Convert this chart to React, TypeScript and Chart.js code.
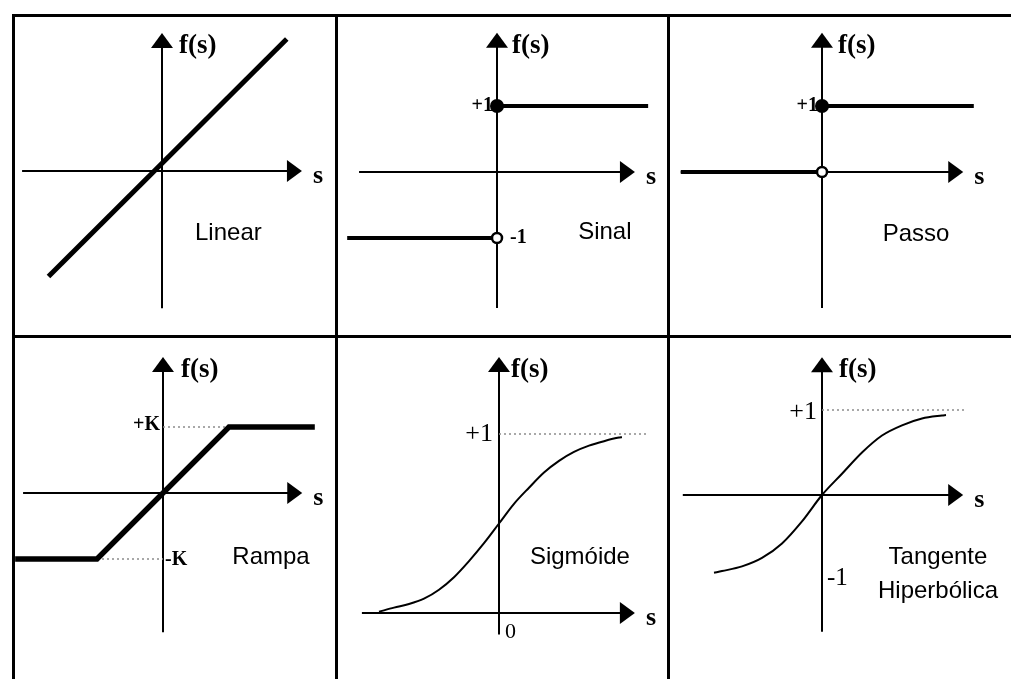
import React, { useEffect, useRef } from "react";
import { Chart, registerables } from "chart.js";

Chart.register(...registerables);

// ---------------- data (function values in panel units) ----------------
const linearS = [-1.72, 1.89];
const linearF = [-1.6, 2.0];

const sinalLowS = [-2.27, 0];
const sinalLowF = [-1, -1];
const sinalHighS = [0, 2.29];
const sinalHighF = [1, 1];
const sinalClosed = [0, 1];
const sinalOpen = [0, -1];

const passoLowS = [-2.14, 0];
const passoLowF = [0, 0];
const passoHighS = [0, 2.3];
const passoHighF = [1, 1];
const passoClosed = [0, 1];
const passoOpen = [0, 0];

const rampaS = [-2.24, -1, 1, 2.3];
const rampaF = [-1, -1, 1, 1];
const rampaGuideUpS = [0, 1];
const rampaGuideUpF = [1, 1];
const rampaGuideLowS = [-1, 0];
const rampaGuideLowF = [-1, -1];

const sigmoideS = [-4, -3.5, -3, -2.5, -2, -1.5, -1, -0.5, 0, 0.5, 1, 1.5, 2, 2.5, 3, 3.5, 4, 4.1];
const sigmoideF = [0.007, 0.03, 0.05, 0.08, 0.13, 0.2, 0.29, 0.39, 0.5, 0.61, 0.7, 0.785, 0.85, 0.9, 0.935, 0.96, 0.98, 0.982];
const sigmoideGuideS = [0, 4.93];
const sigmoideGuideF = [1, 1];

const tanhS = [-2.7, -2.5, -2, -1.5, -1, -0.5, 0, 0.5, 1, 1.5, 2, 2.5, 3, 3.1];
const tanhF = [-0.915, -0.895, -0.84, -0.74, -0.57, -0.31, 0, 0.25, 0.5, 0.7, 0.82, 0.9, 0.935, 0.94];
const tanhGuideS = [0, 3.58];
const tanhGuideF = [1, 1];

const panelNames = ["Linear", "Sinal", "Passo", "Rampa", "Sigmóide", "Tangente", "Hiperbólica"];
const yAxisName = "f(s)";
const xAxisName = "s";
const tickPlusOne = "+1";
const tickMinusOne = "-1";
const tickPlusK = "+K";
const tickMinusK = "-K";
const tickZero = "0";

// ---------------- helpers ----------------
type Pt = { x: number; y: number };
const zip = (xs: number[], ys: number[]): Pt[] => xs.map((x, i) => ({ x, y: ys[i] }));

const serifBold = (n: number) => `bold ${n}px 'Liberation Serif', 'Times New Roman', serif`;
const serif = (n: number) => `${n}px 'Liberation Serif', 'Times New Roman', serif`;
const sans = `24px 'Liberation Sans', Arial, sans-serif`;

const fnLine = (xs: number[], ys: number[], w: number, extra: any = {}) => ({
  data: zip(xs, ys),
  showLine: true,
  borderColor: "#000",
  borderWidth: w,
  pointRadius: 0,
  clip: false,
  order: 1,
  ...extra,
});
const guide = (xs: number[], ys: number[]) => ({
  data: zip(xs, ys),
  showLine: true,
  borderColor: "#8c8c8c",
  borderWidth: 1.5,
  borderDash: [2, 3],
  pointRadius: 0,
  clip: false,
  order: 2,
});
const dot = (p: number[], filled: boolean) => ({
  data: [{ x: p[0], y: p[1] }],
  showLine: false,
  pointRadius: filled ? 7 : 5,
  pointBackgroundColor: filled ? "#000" : "#fff",
  pointBorderColor: "#000",
  pointBorderWidth: filled ? 0 : 2.5,
  clip: false,
  order: 0,
});

interface Label {
  text: string;
  at: [number, number];
  dx?: number;
  dy?: number;
  font: string;
  align?: CanvasTextAlign;
  baseline?: CanvasTextBaseline;
}
interface Panel {
  key: string;
  cell: { left: number; top: number; w: number; h: number };
  origin: { x: number; y: number };
  unit: { x: number; y: number };
  xAxis: [number, number];
  yAxis: [number, number];
  datasets: any[];
  labels: Label[];
}

const COLS = [
  { left: 15, w: 320 },
  { left: 338, w: 329 },
  { left: 670, w: 341 },
];
const ROWS = [
  { top: 17, h: 318 },
  { top: 338, h: 341 },
];
const cellAt = (c: number, r: number) => ({ left: COLS[c].left, w: COLS[c].w, top: ROWS[r].top, h: ROWS[r].h });

const axisNames = (xEnd: number, yEnd: number, fdx = 17): Label[] => [
  { text: yAxisName, at: [0, yEnd], dx: fdx, dy: 13, font: serifBold(27), align: "left", baseline: "middle" },
  { text: xAxisName, at: [xEnd, 0], dx: 11, dy: 12, font: serifBold(26), align: "left", baseline: "alphabetic" },
];

const panels: Panel[] = [
  {
    key: "linear",
    cell: cellAt(0, 0),
    origin: { x: 162, y: 171 },
    unit: { x: 66, y: 66 },
    xAxis: [-2.12, 2.12],
    yAxis: [-2.08, 2.09],
    datasets: [fnLine(linearS, linearF, 5)],
    labels: [
      ...axisNames(2.12, 2.09, 17),
      { text: panelNames[0], at: [0.5, -0.94], font: sans, align: "left", baseline: "middle" },
    ],
  },
  {
    key: "sinal",
    cell: cellAt(1, 0),
    origin: { x: 497, y: 172 },
    unit: { x: 66, y: 66 },
    xAxis: [-2.09, 2.09],
    yAxis: [-2.06, 2.11],
    datasets: [
      dot(sinalClosed, true),
      dot(sinalOpen, false),
      fnLine(sinalLowS, sinalLowF, 4),
      fnLine(sinalHighS, sinalHighF, 4),
    ],
    labels: [
      ...axisNames(2.09, 2.11, 15),
      { text: tickPlusOne, at: [0, 1], dx: -4, font: serifBold(20), align: "right", baseline: "middle" },
      { text: tickMinusOne, at: [0, -1], dx: 13, font: serifBold(20), align: "left", baseline: "middle" },
      { text: panelNames[1], at: [1.23, -0.92], font: sans, align: "left", baseline: "middle" },
    ],
  },
  {
    key: "passo",
    cell: cellAt(2, 0),
    origin: { x: 822, y: 172 },
    unit: { x: 66, y: 66 },
    xAxis: [-2.14, 2.14],
    yAxis: [-2.06, 2.11],
    datasets: [
      dot(passoClosed, true),
      dot(passoOpen, false),
      fnLine(passoLowS, passoLowF, 4),
      fnLine(passoHighS, passoHighF, 4),
    ],
    labels: [
      ...axisNames(2.14, 2.11, 16),
      { text: tickPlusOne, at: [0, 1], dx: -4, font: serifBold(20), align: "right", baseline: "middle" },
      { text: panelNames[2], at: [0.92, -0.95], font: sans, align: "left", baseline: "middle" },
    ],
  },
  {
    key: "rampa",
    cell: cellAt(0, 1),
    origin: { x: 163, y: 493 },
    unit: { x: 66, y: 66 },
    xAxis: [-2.12, 2.11],
    yAxis: [-2.11, 2.06],
    datasets: [
      fnLine(rampaS, rampaF, 5.5),
      guide(rampaGuideUpS, rampaGuideUpF),
      guide(rampaGuideLowS, rampaGuideLowF),
    ],
    labels: [
      ...axisNames(2.11, 2.06, 18),
      { text: tickPlusK, at: [0, 1], dx: -3, dy: -2, font: serifBold(20), align: "right", baseline: "middle" },
      { text: tickMinusK, at: [0, -1], dx: 2, dy: 1, font: serifBold(20), align: "left", baseline: "middle" },
      { text: panelNames[3], at: [1.05, -0.98], font: sans, align: "left", baseline: "middle" },
    ],
  },
  {
    key: "sigmoide",
    cell: cellAt(1, 1),
    origin: { x: 499, y: 613 },
    unit: { x: 30, y: 179 },
    xAxis: [-4.57, 4.53],
    yAxis: [-0.12, 1.43],
    datasets: [
      fnLine(sigmoideS, sigmoideF, 2, { cubicInterpolationMode: "monotone" }),
      guide(sigmoideGuideS, sigmoideGuideF),
    ],
    labels: [
      ...axisNames(4.53, 1.43, 12),
      { text: tickPlusOne, at: [0, 1], dx: -6, font: serif(26), align: "right", baseline: "middle" },
      { text: tickZero, at: [0, 0], dx: 6, dy: 19, font: serif(22), align: "left", baseline: "middle" },
      { text: panelNames[4], at: [1.03, 0.31], font: sans, align: "left", baseline: "middle" },
    ],
  },
  {
    key: "tanh",
    cell: cellAt(2, 1),
    origin: { x: 822, y: 495 },
    unit: { x: 40, y: 85 },
    xAxis: [-3.48, 3.53],
    yAxis: [-1.61, 1.62],
    datasets: [
      fnLine(tanhS, tanhF, 2, { cubicInterpolationMode: "monotone" }),
      guide(tanhGuideS, tanhGuideF),
    ],
    labels: [
      ...axisNames(3.53, 1.62, 17),
      { text: tickPlusOne, at: [0, 1], dx: -5, dy: 2, font: serif(26), align: "right", baseline: "middle" },
      { text: tickMinusOne, at: [0, -1], dx: 5, dy: -2, font: serif(25), align: "left", baseline: "middle" },
      { text: panelNames[5], at: [2.9, -0.73], font: sans, align: "center", baseline: "middle" },
      { text: panelNames[6], at: [2.9, -1.13], font: sans, align: "center", baseline: "middle" },
    ],
  },
];

const HEAD_LEN = 15;
const HEAD_HALF = 11;

function PanelChart({ p }: { p: Panel }) {
  const ref = useRef<HTMLCanvasElement | null>(null);
  useEffect(() => {
    const canvas = ref.current;
    if (!canvas) return;
    const { cell, origin, unit } = p;
    const xmin = -(origin.x - cell.left) / unit.x;
    const xmax = (cell.left + cell.w - origin.x) / unit.x;
    const ymax = (origin.y - cell.top) / unit.y;
    const ymin = -(cell.top + cell.h - origin.y) / unit.y;

    const diagram = {
      id: "diagram_" + p.key,
      beforeDatasetsDraw(chart: any) {
        const ctx = chart.ctx as CanvasRenderingContext2D;
        const xs = chart.scales.x;
        const ys = chart.scales.y;
        const x0 = xs.getPixelForValue(0);
        const y0 = ys.getPixelForValue(0);
        ctx.save();
        ctx.strokeStyle = "#000";
        ctx.fillStyle = "#000";
        ctx.lineWidth = 2;
        // horizontal axis
        const xa = xs.getPixelForValue(p.xAxis[0]);
        const xb = xs.getPixelForValue(p.xAxis[1]);
        ctx.beginPath();
        ctx.moveTo(xa, y0);
        ctx.lineTo(xb - HEAD_LEN + 1, y0);
        ctx.stroke();
        ctx.beginPath();
        ctx.moveTo(xb, y0);
        ctx.lineTo(xb - HEAD_LEN, y0 - HEAD_HALF);
        ctx.lineTo(xb - HEAD_LEN, y0 + HEAD_HALF);
        ctx.closePath();
        ctx.fill();
        // vertical axis
        const ya = ys.getPixelForValue(p.yAxis[0]);
        const yb = ys.getPixelForValue(p.yAxis[1]);
        ctx.beginPath();
        ctx.moveTo(x0, ya);
        ctx.lineTo(x0, yb + HEAD_LEN - 1);
        ctx.stroke();
        ctx.beginPath();
        ctx.moveTo(x0, yb);
        ctx.lineTo(x0 - HEAD_HALF, yb + HEAD_LEN);
        ctx.lineTo(x0 + HEAD_HALF, yb + HEAD_LEN);
        ctx.closePath();
        ctx.fill();
        ctx.restore();
      },
      afterDatasetsDraw(chart: any) {
        const ctx = chart.ctx as CanvasRenderingContext2D;
        const xs = chart.scales.x;
        const ys = chart.scales.y;
        ctx.save();
        ctx.fillStyle = "#000";
        for (const l of p.labels) {
          ctx.font = l.font;
          ctx.textAlign = l.align || "left";
          ctx.textBaseline = l.baseline || "middle";
          ctx.fillText(
            l.text,
            xs.getPixelForValue(l.at[0]) + (l.dx || 0),
            ys.getPixelForValue(l.at[1]) + (l.dy || 0)
          );
        }
        ctx.restore();
      },
    };

    const chart = new Chart(canvas, {
      type: "scatter",
      data: { datasets: p.datasets },
      options: {
        animation: false,
        responsive: false,
        devicePixelRatio: 1,
        events: [],
        layout: { padding: 0, autoPadding: false },
        plugins: { legend: { display: false }, tooltip: { enabled: false } },
        scales: {
          x: { type: "linear", min: xmin, max: xmax, display: false },
          y: { type: "linear", min: ymin, max: ymax, display: false },
        },
      } as any,
      plugins: [diagram as any],
    });
    return () => chart.destroy();
  }, [p]);

  return (
    <canvas
      ref={ref}
      width={p.cell.w}
      height={p.cell.h}
      style={{ position: "absolute", left: p.cell.left, top: p.cell.top, width: p.cell.w, height: p.cell.h }}
    />
  );
}

const rule = (left: number, top: number, width: number, height: number): React.CSSProperties => ({
  position: "absolute",
  left,
  top,
  width,
  height,
  background: "#000",
});

export default function App() {
  return (
    <div style={{ position: "absolute", left: 0, top: 0, width: 1011, height: 679, background: "#fff", overflow: "hidden" }}>
      {panels.map((p) => (
        <PanelChart key={p.key} p={p} />
      ))}
      <div style={rule(12, 14, 999, 3)} />
      <div style={rule(12, 14, 3, 665)} />
      <div style={rule(335, 14, 3, 665)} />
      <div style={rule(667, 14, 3, 665)} />
      <div style={rule(12, 335, 999, 3)} />
    </div>
  );
}
